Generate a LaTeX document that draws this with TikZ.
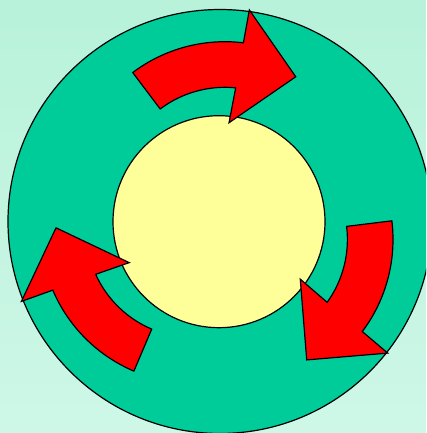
\documentclass[tikz,border=0pt]{standalone}
\definecolor{bgtop}{RGB}{184,242,218}
\definecolor{bgbot}{RGB}{206,247,231}
\definecolor{ringcol}{RGB}{0,204,153}
\definecolor{hubcol}{RGB}{255,255,153}
\tikzset{
  ringstyle/.style={fill=ringcol,draw=black,line width=1.2pt},
  hubstyle/.style={fill=hubcol,draw=black,line width=1.2pt},
  arrowstyle/.style={fill=red,draw=black,line width=1.2pt,line join=miter}
}
\begin{document}
\begin{tikzpicture}[x=1pt,y=1pt]
\useasboundingbox (-219.5,-211.5) rectangle (206.5,221.5);
\fill[top color=bgtop,bottom color=bgbot] (-219.5,-211.5) rectangle (206.5,221.5);
\begin{scope}
\clip (-219.5,-211.5) rectangle (206.5,221.5);
\draw[ringstyle] (0.5,0) circle (212);
\end{scope}
\draw[hubstyle] (-0.5,-0.2) circle (106);
\foreach \r in {0,-120,120}{
  \begin{scope}[rotate=\r,shift={(5.5,26.5)}]
  \draw[arrowstyle] (127:153.3) arc[start angle=127,end angle=83.1,radius=153.3]
    -- (82.5:186.6) -- (59.1:137.8) -- (86.8:72.4) -- (84.3:107.7)
    arc[start angle=84.3,end angle=127,radius=107.7] -- cycle;
  \end{scope}
}
\end{tikzpicture}
\end{document}
